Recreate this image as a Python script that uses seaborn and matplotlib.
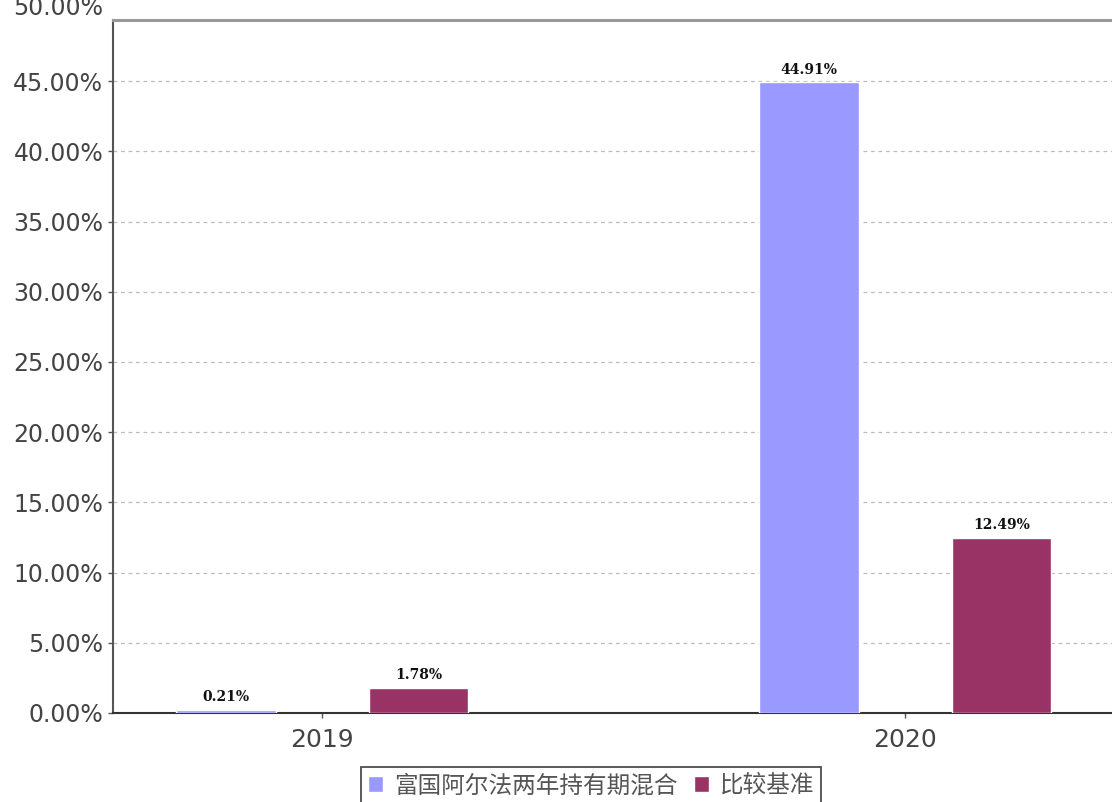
import matplotlib
matplotlib.use("Agg")
import matplotlib.pyplot as plt
import pandas as pd
import seaborn as sns

# 数据
years = ["2019", "2020"]
fund_name = "富国阿尔法两年持有期混合"
bench_name = "比较基准"
fund_returns = [0.21, 44.91]
bench_returns = [1.78, 12.49]
y_ticks = [0, 5, 10, 15, 20, 25, 30, 35, 40, 45]

df = pd.DataFrame({
    "year": years * 2,
    "series": [fund_name] * len(years) + [bench_name] * len(years),
    "value": fund_returns + bench_returns,
})
palette = {fund_name: "#9999FF", bench_name: "#993366"}

sns.set_theme(style="white")
plt.rcParams["font.family"] = ["DejaVu Sans", "Noto Sans CJK SC"]

fig = plt.figure(figsize=(11.12, 8.02), dpi=100)
W, H = 1112, 802
ax = fig.add_axes([113 / W, 1 - 713 / H, (W - 113) / W, (713 - 20) / H])

sns.barplot(data=df, x="year", y="value", hue="series", palette=palette,
            width=0.662, gap=0.482, saturation=1, ax=ax, zorder=3)

ax.set_ylim(0, 49.35)
ax.set_xlim(-0.3585, 1.355)
ax.set_yticks(y_ticks)
ax.set_yticklabels([f"{t:.2f}%" for t in y_ticks])
ax.set_xlabel("")
ax.set_ylabel("")

ax.grid(axis="y", color="#bbbbbb", linestyle=(0, (3, 3)), linewidth=0.9, zorder=0)
ax.set_axisbelow(True)

ax.spines["right"].set_visible(False)
ax.spines["top"].set_color("#999999")
ax.spines["top"].set_linewidth(2.2)
ax.spines["left"].set_color("#555555")
ax.spines["left"].set_linewidth(1.5)
ax.spines["bottom"].set_color("#333333")
ax.spines["bottom"].set_linewidth(1.5)

ax.tick_params(axis="y", left=True, length=3.5, width=1, color="#555555",
               labelsize=17, labelcolor="#444444", pad=3.5)
ax.tick_params(axis="x", bottom=True, length=3.5, width=1, color="#555555",
               labelsize=18, labelcolor="#444444", pad=7)

# 被裁掉的 50.00% 标签
ax.annotate("50.00%", xy=(0, 50), xycoords=("axes fraction", "data"),
            xytext=(-7, 2), textcoords="offset points", ha="right", va="center",
            fontsize=17, color="#444444", annotation_clip=False)

# 柱顶数值
for cont in ax.containers:
    ax.bar_label(cont, labels=[f"{b.get_height():.2f}%" for b in cont],
                 padding=4, fontsize=10, fontweight="bold", family="DejaVu Serif",
                 color="#111111")

handles, labels = ax.get_legend_handles_labels()
leg = ax.legend(handles, labels, loc="upper center", bbox_to_anchor=(591 / W, 1 - 767 / H),
                bbox_transform=fig.transFigure, ncol=2, frameon=True, fancybox=False,
                edgecolor="#222222", borderaxespad=0, handlelength=0.65, handleheight=0.65,
                handletextpad=0.45, columnspacing=0.7, borderpad=0.3,
                prop={"family": ["Noto Sans CJK SC", "DejaVu Sans"], "size": 17})
leg.get_frame().set_linewidth(1.3)
for t in leg.get_texts():
    t.set_color("#555555")

fig.savefig("out.png", dpi=100)
